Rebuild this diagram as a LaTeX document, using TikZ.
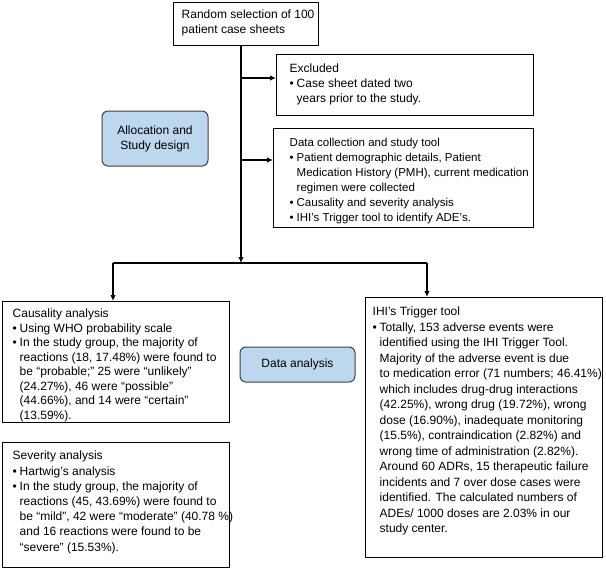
\documentclass[tikz,border=0pt]{standalone}
\usepackage{fontspec}
\setmainfont{Liberation Sans}
\usetikzlibrary{arrows.meta}
\definecolor{boxblue}{HTML}{BDD7EE}
\definecolor{boxedge}{HTML}{404040}
\newcommand{\bul}{\makebox[7pt][l]{•}}
\newcommand{\ind}{\hspace*{7pt}}
% #1 width, #2 height, #3 left pad, #4 top pad, #5 text
\newcommand{\boxtext}[5]{\parbox[c][#2][t]{#1}{\vspace*{#4}\hspace*{#3}\begin{tabular}[t]{@{}l@{}}#5\end{tabular}}}
\tikzset{
  textbox/.style={draw=black, line width=1.4pt, rectangle, inner sep=0pt, anchor=north west, font=\fontsize{12}{14.8}\selectfont},
  bluebox/.style={draw=boxedge, line width=1pt, fill=boxblue, rounded corners=6pt, align=center, inner sep=0pt, font=\fontsize{12}{15}\selectfont},
  conn/.style={line width=1.6pt, black},
  arr/.style={conn, -{Latex[length=6pt,width=5.5pt]}},
}
\begin{document}
\begin{tikzpicture}[x=1pt,y=-1pt]
\useasboundingbox (0,0) rectangle (606,568);

\node[textbox, font=\fontsize{12}{15}\selectfont] (top) at (173,2) {\boxtext{145pt}{43pt}{8pt}{5.5pt}{Random selection of 100\\patient case sheets}};

\node[textbox, font=\fontsize{12}{15}\selectfont] (excl) at (276,54) {\boxtext{257pt}{61pt}{13pt}{7.5pt}{Excluded\\
\bul Case sheet dated two\\
\ind years prior to the study.}};

\node[textbox, font=\fontsize{11.5}{15}\selectfont] (data) at (273,128) {\boxtext{260pt}{99pt}{16pt}{7pt}{Data collection and study tool\\
\bul Patient demographic details, Patient\\
\ind Medication History (PMH), current medication\\
\ind regimen were collected\\
\bul Causality and severity analysis\\
\bul IHI’s Trigger tool to identify ADE’s.}};

\node[bluebox, minimum width=106pt, minimum height=55pt] (alloc) at (155,138.5) {Allocation and\\Study design};

\node[textbox, font=\fontsize{12}{14.5}\selectfont] (caus) at (2,301) {\boxtext{227pt}{121pt}{10pt}{6pt}{Causality analysis\\
\bul Using WHO probability scale\\
\bul In the study group, the majority of\\
\ind reactions (18, 17.48\%) were found to\\
\ind be “probable;” 25 were “unlikely”\\
\ind (24.27\%), 46 were “possible”\\
\ind (44.66\%), and 14 were “certain”\\
\ind (13.59\%).}};

\node[textbox, font=\fontsize{12}{15.2}\selectfont] (sev) at (2,442) {\boxtext{227pt}{125pt}{10pt}{6.5pt}{Severity analysis\\
\bul Hartwig’s analysis\\
\bul In the study group, the majority of\\
\ind reactions (45, 43.69\%) were found to\\
\ind be “mild”, 42 were “moderate” (40.78 \%)\\
\ind and 16 reactions were found to be\\
\ind “severe” (15.53\%).}};

\node[textbox, font=\fontsize{12}{15.5}\selectfont] (trig) at (365,297) {\boxtext{237pt}{260pt}{7pt}{7pt}{IHI’s Trigger tool\\
\bul Totally, 153 adverse events were\\
\ind identified using the IHI Trigger Tool.\\
\ind Majority of the adverse event is due\\
\ind to medication error (71 numbers; 46.41\%)\\
\ind which includes drug-drug interactions\\
\ind (42.25\%), wrong drug (19.72\%), wrong\\
\ind dose (16.90\%), inadequate monitoring\\
\ind (15.5\%), contraindication (2.82\%) and\\
\ind wrong time of administration (2.82\%).\\
\ind Around 60 ADRs, 15 therapeutic failure\\
\ind incidents and 7 over dose cases were\\
\ind identified. The calculated numbers of\\
\ind ADEs/ 1000 doses are 2.03\% in our\\
\ind study center.}};

\node[bluebox, minimum width=115pt, minimum height=35pt] (anal) at (297.5,364.5) {Data analysis};

\coordinate (split) at (241,263);
\coordinate (splitL) at (113,263);
\coordinate (splitR) at (427,263);
\coordinate (bexcl) at (241,78);
\coordinate (bdata) at (241,160);

\draw[arr] (split |- top.south) -- (split);
\draw[arr] (bexcl) -- (bexcl -| excl.west);
\draw[arr] (bdata) -- (bdata -| data.west);
\draw[conn] (splitL) -- (splitR);
\draw[arr] (splitL) -- (splitL |- caus.north);
\draw[arr] (splitR) -- (splitR |- trig.north);
\end{tikzpicture}
\end{document}
